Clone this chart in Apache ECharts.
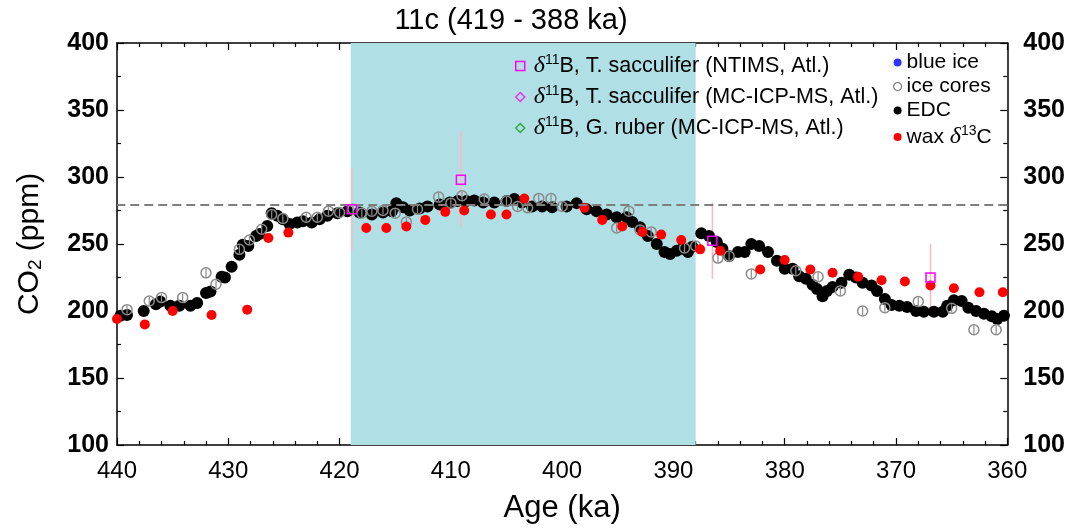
<!DOCTYPE html>
<html>
<head>
<meta charset="utf-8">
<script src="https://cdn.jsdelivr.net/npm/echarts@6/dist/echarts.min.js"></script>
<style>
html, body { margin: 0; padding: 0; background: #fff; }
#main { width: 1068px; height: 529px; }
</style>
</head>
<body>
<div id="main"></div>
<script>
// EDC (age ka, CO2 ppm)
var edcAge = [439.7, 439.1, 437.6, 436.5, 436.1, 435.2, 434.4, 433.4, 432.8, 432.0, 431.6, 430.6, 430.3, 429.7, 429.0, 428.7, 428.2, 427.5, 427.2, 426.5,
	426.1, 425.6, 425.1, 424.5, 423.8, 423.3, 422.5, 421.8, 421.1, 420.2, 419.3, 418.2, 417.1, 416.1, 415.3, 414.9, 414.3, 413.7, 412.8, 412.1,
	411.0, 410.1, 409.4, 408.6, 407.9, 407.1, 406.1, 405.0, 404.3, 403.6, 402.7, 401.8, 400.9, 399.6, 398.7, 397.8, 396.9, 396.0, 395.1, 394.2,
	393.7, 393.0, 392.3, 391.5, 390.8, 390.3, 389.7, 389.2, 388.7, 388.3, 387.5, 386.8, 386.1, 385.6, 385.0, 384.2, 383.6, 383.0, 382.3, 381.5,
	380.7, 380.0, 379.3, 378.7, 378.1, 377.5, 377.1, 376.6, 376.2, 375.7, 374.9, 374.2, 373.6, 373.0, 372.2, 371.7, 371.0, 370.4, 369.7, 369.0,
	368.2, 367.5, 366.6, 365.8, 365.4, 364.8, 364.1, 363.5, 362.8, 362.1, 361.4, 360.9, 360.3];
var edcCO2 = [196.5, 197, 200, 205, 207, 204, 204, 204, 206, 213.5, 214.5, 225.5, 225, 233, 242, 249.5, 248.5, 256, 257.5, 263.5,
	273, 271, 268.5, 265, 266, 267, 266, 268.5, 271, 273, 274.5, 273.5, 272, 273.5, 274.5, 280.5, 277.5, 275, 276.5, 278,
	279.5, 281, 282, 282, 282.5, 281, 281, 282, 283.5, 281, 278, 278, 277.5, 278, 280.5, 276, 274.5, 272, 270, 270,
	266.5, 262.5, 256, 250, 244, 242.5, 245, 246.5, 244, 248, 258, 256, 251.5, 246.5, 241, 244, 244, 250, 248.5, 244,
	237.5, 231.5, 231.5, 226, 224, 219.5, 216.5, 211, 215, 218, 221, 227, 225, 221, 219, 215, 209, 204.5, 204, 203,
	200, 199.5, 199.5, 199.5, 204, 208, 207.5, 202.5, 200, 198, 196, 194, 196.5];

// other ice cores
var iceAge = [439.1, 437.1, 436.0, 434.1, 432.0, 431.1, 429.0, 428.1, 427.0, 426.1, 425.1, 423.0, 422.0, 421.0, 420.0, 418.8, 418.0, 417.1, 416.1, 415.0,
	414.0, 413.0, 411.1, 410.0, 409.0, 407.0, 405.0, 404.0, 403.1, 402.1, 401.0, 400.0, 395.1, 394.0, 393.0, 392.0, 389.0, 388.0, 386.0, 385.0,
	383.0, 379.0, 377.0, 375.0, 373.0, 371.0, 368.0, 365.0, 363.0, 361.0];
var iceCO2 = [201, 207.5, 210, 210, 228.5, 220, 246, 253, 261, 272, 269, 270, 270, 274.5, 273.5, 276, 273, 274.5, 275, 273,
	266.5, 276, 285, 280.5, 286, 283.5, 282, 278, 277, 284, 284, 278, 262, 274.5, 260.5, 259, 247, 248.5, 239.5, 241,
	227.7, 230, 225.5, 215, 200, 202.5, 207, 202, 186, 186];

// wax d13C
var waxAge = [440.0, 437.5, 435.0, 431.5, 428.3, 426.4, 424.6, 417.6, 415.8, 414.0, 412.3, 410.5, 408.8, 406.4, 405.0, 403.4, 398.0, 396.4, 394.6, 392.8,
	391.1, 389.3, 387.6, 385.8, 382.2, 380.0, 377.7, 375.7, 373.4, 371.3, 369.2, 366.9, 364.8, 362.5, 360.4];
var waxCO2 = [194, 190, 200, 197, 201, 254.5, 258.5, 262, 262, 263, 268, 274, 275, 272, 272, 284, 277, 268, 263, 259,
	257, 253, 246, 245, 231, 238, 231, 228.5, 225.5, 223, 222, 219, 217, 214, 214];

// d11B T. sacculifer (NTIMS) with error range
var borAge = [418.9, 409.1, 386.5, 366.9];
var borCO2 = [276, 298, 252.5, 225];
var borLo = [245, 263, 224, 199.5];
var borHi = [307, 334, 281, 250];

var pi = 279;       // dashed reference line
var stage = [419, 388];

function pairs(a, b) {
	var out = [];
	for (var i = 0; i < a.length; i++) out.push([a[i], b[i]]);
	return out;
}
var borBars = [];
for (var i = 0; i < borAge.length; i++) borBars.push([borAge[i], borLo[i], borHi[i]]);

var FONT = 'Liberation Sans';
var rich = {
	i: { fontFamily: 'Liberation Serif', fontStyle: 'italic', fontSize: 24, color: '#000' },
	sup: { fontFamily: FONT, fontSize: 14, color: '#000', padding: [0, 0, 12, 0] }
};
function fmt(name) {
	return name.replace('d11B', '{i|δ}{sup|11}B').replace('d13C', '{i|δ}{sup|13}C');
}

var n1 = 'd11B, T. sacculifer (NTIMS, Atl.)';
var n2 = 'd11B, T. sacculifer (MC-ICP-MS, Atl.)';
var n3 = 'd11B, G. ruber (MC-ICP-MS, Atl.)';
var clear = 'rgba(0,0,0,0)';

var chart = echarts.init(document.getElementById('main'));
var axisX = {
	type: 'value', min: 360, max: 440, interval: 10, inverse: true,
	axisLine: { lineStyle: { color: '#000', width: 1.5 } },
	axisTick: { inside: true, length: 7, lineStyle: { color: '#000', width: 1.2 } },
	minorTick: { show: true, splitNumber: 5, length: 4, lineStyle: { color: '#000', width: 1.2 } },
	splitLine: { show: false }
};
var axisY = {
	type: 'value', min: 100, max: 400, interval: 50,
	axisLine: { show: true, lineStyle: { color: '#000', width: 1.5 } },
	axisTick: { show: true, inside: true, length: 7, lineStyle: { color: '#000', width: 1.2 } },
	minorTick: { show: true, splitNumber: 2, length: 4, lineStyle: { color: '#000', width: 1.2 } },
	splitLine: { show: false }
};

var option = {
	animation: false,
	backgroundColor: '#fff',
	textStyle: { fontFamily: FONT },
	title: {
		text: '11c (419 - 388 ka)', left: 506, top: 1, textAlign: 'center',
		textStyle: { fontFamily: FONT, fontSize: 29, fontWeight: 'normal', color: '#000' }
	},
	grid: { left: 117, right: 60, top: 43, bottom: 82 },
	xAxis: [
		Object.assign({}, axisX, {
			position: 'bottom',
			name: 'Age (ka)', nameLocation: 'middle', nameGap: 48,
			nameTextStyle: { fontFamily: FONT, fontSize: 31, color: '#000' },
			axisLabel: { fontFamily: FONT, fontSize: 24, color: '#000', margin: 14 }
		}),
		Object.assign({}, axisX, { position: 'top', axisLabel: { show: false } })
	],
	yAxis: [
		Object.assign({}, axisY, {
			position: 'left',
			name: '{t|CO}{s|2}{t| (ppm)}', nameLocation: 'middle', nameGap: 72, nameRotate: 90,
			nameTextStyle: {
				rich: {
					t: { fontFamily: FONT, fontSize: 30, color: '#000' },
					s: { fontFamily: FONT, fontSize: 19, color: '#000', padding: [12, 0, 0, 0] }
				}
			},
			axisLabel: { fontFamily: FONT, fontSize: 25, fontWeight: 'bold', color: '#000', margin: 8 }
		}),
		Object.assign({}, axisY, {
			position: 'right',
			axisLabel: { fontFamily: FONT, fontSize: 25, fontWeight: 'bold', color: '#000', margin: 16 }
		})
	],
	legend: [{
		orient: 'vertical', left: 515, top: 53, padding: 0, itemGap: 6, itemWidth: 9, itemHeight: 9,
		formatter: fmt,
		textStyle: { fontFamily: FONT, fontSize: 21.5, color: '#000', rich: rich, padding: [0, 0, 0, 4] },
		data: [
			{ name: n1, icon: 'rect', itemStyle: { color: clear, borderColor: '#ff00ff', borderWidth: 1.5 } },
			{ name: n2, icon: 'diamond', itemStyle: { color: clear, borderColor: '#ff00ff', borderWidth: 1.5 } },
			{ name: n3, icon: 'diamond', itemStyle: { color: clear, borderColor: '#109a10', borderWidth: 1.5 } }
		]
	}, {
		orient: 'vertical', left: 893, top: 52, padding: 0, itemGap: 3, itemWidth: 8, itemHeight: 8,
		formatter: fmt,
		textStyle: { fontFamily: FONT, fontSize: 21, color: '#000', rich: rich },
		data: [
			{ name: 'blue ice', icon: 'circle', itemStyle: { color: '#0000ff' } },
			{ name: 'ice cores', icon: 'circle', itemStyle: { color: '#fff', borderColor: '#777', borderWidth: 1.2 } },
			{ name: 'EDC', icon: 'circle', itemStyle: { color: '#000' } },
			{ name: 'wax d13C', icon: 'circle', itemStyle: { color: '#ff0000' } }
		]
	}],
	series: [{
		name: 'stage', type: 'line', data: [], z: 0, silent: true,
		markArea: {
			silent: true,
			itemStyle: { color: '#b0e0e6' },
			data: [[{ xAxis: stage[0] }, { xAxis: stage[1] }]]
		},
		markLine: {
			silent: true, symbol: 'none', label: { show: false },
			lineStyle: { color: '#7f7f7f', type: [9, 5], width: 2 },
			data: [{ yAxis: pi }]
		}
	}, {
		name: 'bars', type: 'custom', z: 1,
		data: borBars,
		encode: { x: 0, y: [1, 2] },
		renderItem: function(params, api) {
			var a = api.coord([api.value(0), api.value(1)]);
			var b = api.coord([api.value(0), api.value(2)]);
			return { type: 'line', shape: { x1: a[0], y1: a[1], x2: b[0], y2: b[1] }, style: { stroke: '#ffb6c1', lineWidth: 1.5 } };
		}
	}, {
		name: 'EDC', type: 'scatter', z: 2, symbol: 'circle', symbolSize: 12,
		itemStyle: { color: '#000', opacity: 1 },
		data: pairs(edcAge, edcCO2)
	}, {
		name: 'ice cores', type: 'custom', z: 3,
		data: pairs(iceAge, iceCO2),
		encode: { x: 0, y: 1 },
		renderItem: function(params, api) {
			var p = api.coord([api.value(0), api.value(1)]);
			return {
				type: 'group', children: [
					{ type: 'circle', shape: { cx: p[0], cy: p[1], r: 5 }, style: { fill: 'none', stroke: '#8a8a8a', lineWidth: 1.5 } },
					{ type: 'line', shape: { x1: p[0], y1: p[1] - 4, x2: p[0], y2: p[1] + 4 }, style: { stroke: '#8a8a8a', lineWidth: 1.2 } }
				]
			};
		}
	}, {
		name: 'wax d13C', type: 'scatter', z: 4, symbol: 'circle', symbolSize: 10,
		itemStyle: { color: '#ff0000', opacity: 1 },
		data: pairs(waxAge, waxCO2)
	}, {
		name: n1, type: 'scatter', z: 5, symbol: 'rect', symbolSize: 9,
		itemStyle: { color: clear, borderColor: '#ff00ff', borderWidth: 1.5, opacity: 1 },
		data: pairs(borAge, borCO2)
	}, {
		name: n2, type: 'scatter', symbol: 'diamond', data: []
	}, {
		name: n3, type: 'scatter', symbol: 'diamond', data: []
	}, {
		name: 'blue ice', type: 'scatter', data: []
	}]
};
chart.setOption(option);
</script>
</body>
</html>
